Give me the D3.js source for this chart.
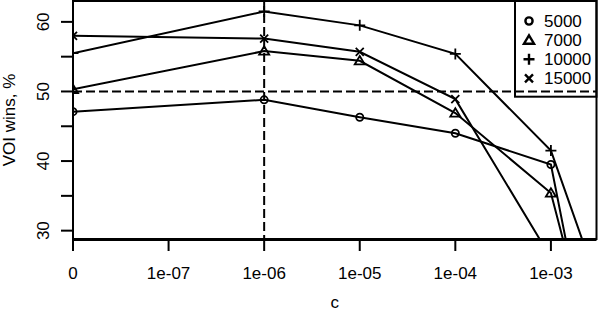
<!DOCTYPE html>
<html>
<head>
<meta charset="utf-8">
<script src="https://cdn.jsdelivr.net/npm/d3@7"></script>
<style>
  body { margin: 0; background: #fff; }
  svg { display: block; font-family: 'Liberation Sans', Arial, sans-serif; }
</style>
</head>
<body>
<svg id="chart" width="598" height="312"></svg>
<script>
// ========= Data ========= //
const cValues = [0, 1e-6, 1e-5, 1e-4, 1e-3, 3e-3];
const wins5000 = [47.1, 48.8, 46.3, 44.0, 39.5, 6.4];
const wins7000 = [50.3, 55.8, 54.4, 46.9, 35.4, 10.3];
const wins10000 = [55.5, 61.5, 59.5, 55.4, 41.5, 22.9];
const wins15000 = [58.0, 57.6, 55.7, 48.9, 26.1, 8.0];
const seriesNames = ['5000', '7000', '10000', '15000'];
const seriesShapes = ['circle', 'triangle', 'plus', 'cross'];
const xTickValues = [0, 1e-7, 1e-6, 1e-5, 1e-4, 1e-3];
const xTickLabels = ['0', '1e-07', '1e-06', '1e-05', '1e-04', '1e-03'];
const yTickValues = [30, 35, 40, 45, 50, 55, 60];
const yTickLabels = [30, 40, 50, 60];

const series = [wins5000, wins7000, wins10000, wins15000].map((vals, i) => ({
  name: seriesNames[i],
  shape: seriesShapes[i],
  points: vals.map((v, j) => ({ c: cValues[j], v }))
}));

// ========= Setup ========= //
const svg = d3.select('#chart');
const plot = { left: 73, right: 596.5, top: 1, bottom: 239 };

// c = 0 sits one decade left of 1e-07
const pos = c => c === 0 ? 0 : Math.log10(c) + 8;

const x = d3.scaleLinear()
  .domain([0, 5.477])
  .range([plot.left, plot.right]);

const y = d3.scaleLinear()
  .domain([28.8, 63.0])
  .range([plot.bottom, plot.top]);

function symbolPath(shape, s) {
  if (shape === 'circle') {
    const r = 3.6 * s;
    return `M${-r},0a${r},${r} 0 1,0 ${2 * r},0a${r},${r} 0 1,0 ${-2 * r},0`;
  }
  if (shape === 'triangle') {
    const h = 4.8 * s;
    return `M0,${-h}L${h * 1.05},${h * 0.75}L${-h * 1.05},${h * 0.75}Z`;
  }
  if (shape === 'plus') {
    const h = 5.5 * s;
    return `M${-h},0H${h}M0,${-h}V${h}`;
  }
  const h = 4 * s;
  return `M${-h},${-h}L${h},${h}M${-h},${h}L${h},${-h}`;
}

svg.append('clipPath')
  .attr('id', 'plot-clip')
  .append('rect')
  .attr('x', plot.left)
  .attr('y', plot.top)
  .attr('width', plot.right - plot.left)
  .attr('height', plot.bottom - plot.top);

const inner = svg.append('g').attr('clip-path', 'url(#plot-clip)');

// ========= Reference lines ========= //
inner.append('line')
  .attr('x1', plot.left).attr('x2', plot.right)
  .attr('y1', y(50)).attr('y2', y(50))
  .attr('stroke', '#000').attr('stroke-width', 2)
  .attr('stroke-dasharray', '9,4');

inner.append('line')
  .attr('x1', x(pos(1e-6))).attr('x2', x(pos(1e-6)))
  .attr('y1', plot.top).attr('y2', plot.bottom)
  .attr('stroke', '#000').attr('stroke-width', 2)
  .attr('stroke-dasharray', '9,4');

// ========= Series lines and points ========= //
const line = d3.line()
  .x(d => x(pos(d.c)))
  .y(d => y(d.v));

const groups = inner.selectAll('.series')
  .data(series)
  .join('g')
    .attr('class', 'series');

groups.append('path')
  .attr('d', d => line(d.points))
  .attr('fill', 'none')
  .attr('stroke', '#000')
  .attr('stroke-width', 2);

groups.selectAll('.pt')
  .data(d => d.points.map(p => ({ ...p, shape: d.shape })))
  .join('path')
    .attr('class', 'pt')
    .attr('transform', d => `translate(${x(pos(d.c))},${y(d.v)})`)
    .attr('d', d => symbolPath(d.shape, 1))
    .attr('fill', 'none')
    .attr('stroke', '#000')
    .attr('stroke-width', 1.8);

// ========= Box and axes ========= //
svg.append('rect')
  .attr('x', plot.left).attr('y', plot.top)
  .attr('width', plot.right - plot.left)
  .attr('height', plot.bottom - plot.top)
  .attr('fill', 'none')
  .attr('stroke', '#000')
  .attr('stroke-width', 2);

svg.append('line')
  .attr('x1', plot.left).attr('x2', plot.right)
  .attr('y1', plot.bottom + 1).attr('y2', plot.bottom + 1)
  .attr('stroke', '#000').attr('stroke-width', 2);

svg.append('g')
  .selectAll('line')
  .data(xTickValues)
  .join('line')
    .attr('x1', d => x(pos(d))).attr('x2', d => x(pos(d)))
    .attr('y1', plot.bottom).attr('y2', plot.bottom + 12)
    .attr('stroke', '#000').attr('stroke-width', 2);

svg.append('g')
  .selectAll('text')
  .data(xTickValues)
  .join('text')
    .attr('x', d => x(pos(d)))
    .attr('y', 279)
    .attr('text-anchor', 'middle')
    .attr('font-size', '17px')
    .text((d, i) => xTickLabels[i]);

svg.append('g')
  .selectAll('line')
  .data(yTickValues)
  .join('line')
    .attr('x1', plot.left - 12).attr('x2', plot.left)
    .attr('y1', d => y(d)).attr('y2', d => y(d))
    .attr('stroke', '#000').attr('stroke-width', 2);

svg.append('g')
  .selectAll('text')
  .data(yTickLabels)
  .join('text')
    .attr('transform', d => `translate(48.5,${y(d)}) rotate(-90)`)
    .attr('text-anchor', 'middle')
    .attr('font-size', '17px')
    .text(d => d);

svg.append('text')
  .attr('x', (plot.left + plot.right) / 2)
  .attr('y', 307.5)
  .attr('text-anchor', 'middle')
  .attr('font-size', '17px')
  .text('c');

svg.append('text')
  .attr('transform', `translate(15,${(plot.top + plot.bottom) / 2}) rotate(-90)`)
  .attr('text-anchor', 'middle')
  .attr('font-size', '17px')
  .text('VOI wins, %');

// ========= Legend ========= //
const legend = svg.append('g').attr('class', 'legend');

legend.append('rect')
  .attr('x', 515).attr('y', plot.top)
  .attr('width', plot.right - 515)
  .attr('height', 96.7 - plot.top)
  .attr('fill', 'none')
  .attr('stroke', '#000')
  .attr('stroke-width', 2);

const rows = legend.selectAll('.legend-row')
  .data(series)
  .join('g')
    .attr('class', 'legend-row')
    .attr('transform', (d, i) => `translate(529,${21 + i * 19.1})`);

rows.append('path')
  .attr('d', d => symbolPath(d.shape, 1))
  .attr('fill', 'none')
  .attr('stroke', '#000')
  .attr('stroke-width', 2.4);

rows.append('text')
  .attr('x', 15)
  .attr('y', 6)
  .attr('font-size', '17px')
  .text(d => d.name);
</script>
</body>
</html>
